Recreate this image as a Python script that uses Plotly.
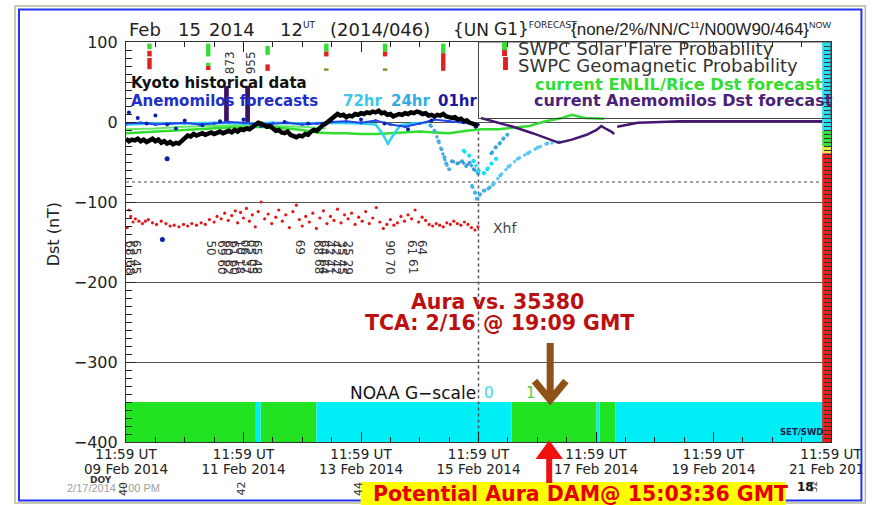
import numpy as np
import plotly.graph_objects as go

# ---------------- data (x = days since 2014-02-09 11:59 UT) ----------------
x_tick_days = [0, 2, 4, 6, 8, 10, 12]
x_tick_time = ["11:59 UT"] * 7
x_tick_date = ["09 Feb 2014", "11 Feb 2014", "13 Feb 2014", "15 Feb 2014", "17 Feb 2014", "19 Feb 2014",
               "21 Feb 2014"]
y_tick_vals = [100, 0, -100, -200, -300, -400]
y_tick_text = ["100", "0", "\u2212100", "\u2212200", "\u2212300", "\u2212400"]

kyoto_step_days = 0.05
kyoto_dst = [-21, -24, -22, -23, -21, -24, -22, -25, -23, -21, -24, -22, -26, -24, -27, -25, -28, -26, -27, -23, -20,
             -17, -18, -15, -17, -16, -14, -16, -15, -13, -15, -14, -12, -14, -13, -11, -13, -10, -12, -9, -10,
             -8, -9, -6, -3, -1, -2, -4, -6, -5, -8, -11, -10, -13, -14, -12, -16, -17, -19, -17, -18,
             -15, -16, -12, -10, -11, -7, -4, -2, 1, 3, 7, 10, 8, 9, 6, 8, 7, 10, 9, 11,
             10, 12, 11, 13, 12, 14, 11, 12, 9, 10, 7, 8, 10, 9, 11, 10, 12, 11, 13, 12,
             10, 11, 8, 9, 7, 9, 8, 10, 7, 6, 5, 6, 3, 4, 1, 2, -1, -2, -4, -5]

anem01_days = [0.05, 0.2, 0.35, 0.5, 0.7, 0.85, 1.0, 1.3, 1.6, 2.0, 2.3, 2.7, 3.1, 3.5, 4.0, 4.4, 4.8, 5.2, 5.6, 5.95]
anem01_dst = [12, 5, -2, 8, -3, -8, 2, -4, 1, 3, -5, 0, -2, 4, 3, -2, -9, 2, 4, -6]
anem01_out_days = [0.70, 0.62]
anem01_out_dst = [-46, -147]

anem24_days = [0, 0.25, 0.5, 0.75, 1.0, 1.25, 1.5, 1.75, 2.0, 2.25, 2.5, 2.75, 3.0, 3.25, 3.5, 3.75, 4.0, 4.25,
               4.5, 4.75, 5.0, 5.25, 5.5, 5.75, 6.0]
anem24_dst = [-2, -1, -3, -2, -1, -3, -2, 0, -1, -3, -2, -1, -3, -2, 0, 1, -1, 2, -3, -6, -2, 3, 1, -1, -3]

anem72_days = [0, 0.5, 1.0, 1.5, 2.0, 2.5, 3.0, 3.5, 4.0, 4.25, 4.36, 4.46, 4.56, 4.67, 4.9, 5.1]
anem72_dst = [-3, -2, -2, -1, -2, -1, -2, -1, -2, -3, -14, -27, -15, -4, -2, -1]

run_a_days = [5.18, 5.25, 5.32, 5.37, 5.42, 5.45, 5.50]
run_a_dst = [-4, -11, -24, -34, -44, -52, -59]
run_b_days = [5.55, 5.64, 5.72, 5.79, 5.85, 5.92, 5.99]
run_b_dst = [-49, -52, -49, -55, -51, -59, -64]
run_c_days = [5.75, 5.84, 5.92, 6.00, 6.09, 6.15, 6.22, 6.30]
run_c_dst = [-36, -42, -49, -61, -64, -59, -52, -46]
run_d_days = [5.89, 5.94, 5.97, 6.02, 6.09, 6.17, 6.25]
run_d_dst = [-80, -88, -96, -91, -86, -83, -78]
run_e_days = [6.25, 6.37, 6.51, 6.67, 6.84, 7.01, 7.17, 7.37]
run_e_dst = [-78, -67, -56, -46, -39, -32, -27, -25]
run_f_days = [6.22, 6.29, 6.36, 6.42, 6.49]
run_f_dst = [-39, -32, -27, -21, -16]

enlil_days = [0, 0.25, 0.5, 0.75, 1.0, 1.25, 1.5, 1.75, 2.0, 2.25, 2.5, 2.75, 3.0, 3.25, 3.5, 3.75, 4.0, 4.25,
              4.5, 4.75, 5.0, 5.25, 5.5, 5.8, 6.05, 6.35, 6.6, 6.87, 7.14, 7.42, 7.59, 7.81, 8.14]
enlil_dst = [-14, -13, -12, -11, -10, -9, -8, -7, -7, -6, -7, -8, -10, -13, -14, -14, -15, -15,
             -14, -13, -12, -13, -14, -11, -9, -9, -7, -5, 1, 5, 9, 5, 4]
enlil2_days = [0, 0.5, 1.0, 1.5, 2.0, 2.5, 3.0, 3.4]
enlil2_dst = [-9, -8, -6, -5, -4, -5, -6, -8]

anem_fc_days = [6.04, 6.25, 6.59, 6.92, 7.37, 7.59, 7.84, 8.01, 8.09, 8.18, 8.26, 8.31, None,
                8.36, 8.51, 8.71, 9.10, 9.43, 11.85]
anem_fc_dst = [5, 1, -6, -14, -26, -22, -16, -10, -5, -9, -12, -15, None, -6, -4, -1, 0, 1, 1]

xhf_days = [0.02, 0.05, 0.08, 0.12, 0.16, 0.22, 0.28, 0.33, 0.38, 0.45, 0.52, 0.60, 0.68, 0.75, 0.82, 0.90, 0.98,
            1.05, 1.12, 1.20, 1.28, 1.35, 1.42, 1.50, 1.55, 1.62, 1.68, 1.74, 1.80, 1.86, 1.90, 1.95,
            2.00, 2.05, 2.10, 2.15, 2.20, 2.25, 2.30, 2.36, 2.42, 2.48, 2.55, 2.60, 2.66, 2.72, 2.78, 2.84, 2.90, 2.95,
            3.00, 3.06, 3.12, 3.18, 3.24, 3.30, 3.36, 3.42, 3.48, 3.54, 3.60, 3.66, 3.72, 3.78, 3.84, 3.90, 3.96,
            4.02, 4.08, 4.14, 4.20, 4.26, 4.32, 4.38, 4.44, 4.50, 4.56, 4.62, 4.68, 4.74, 4.80, 4.86, 4.92, 4.98,
            5.04, 5.10, 5.16, 5.22, 5.28, 5.34, 5.40, 5.46, 5.52, 5.58, 5.64, 5.70, 5.76, 5.82, 5.88, 5.94, 5.99]
xhf_val = [-132, -110, -118, -125, -121, -124, -127, -124, -122, -126, -128, -124, -127, -130, -129, -131, -128,
           -130, -127, -129, -126, -128, -122, -125, -118, -121, -114, -123, -117, -111, -126, -113,
           -120, -108, -124, -116, -131, -112, -100, -121, -115, -127, -119, -110, -124, -116, -132, -112, -104, -122,
           -130, -118, -125, -114, -133, -120, -111, -127, -118, -123, -109, -126, -116, -121, -114, -128, -119,
           -124, -112, -127, -120, -107, -125, -133, -128, -122, -129, -126, -118, -124, -116, -121, -110, -125,
           -119, -123, -128, -130, -127, -129, -131, -126, -128, -124, -127, -129, -125, -128, -132, -135, -131]

flare_row1_days = [0.07, 0.18, 1.45, 1.64, 1.74, 1.84, 1.94, 2.04, 2.14, 2.24, 2.96, 3.28, 3.38, 3.48, 3.58,
                   3.68, 3.78, 4.50, 4.88, 5.05]
flare_row1_text = ["68", "65", "50", "69", "60", "61", "10", "06", "05", "65", "69", "68", "64", "42", "42",
                   "35", "25", "90", "61", "64"]
flare_row2_days = [0.07, 0.18, 1.64, 1.74, 1.84, 1.94, 2.04, 2.14, 2.24, 3.28, 3.38, 3.48, 3.58, 3.68, 3.78,
                   4.50, 4.88]
flare_row2_text = ["68", "45", "60", "62", "60", "18", "37", "05", "48", "68", "64", "41", "42", "45", "29",
                   "70", "61"]
flare_row_levels = [-157, -181]

cme_days = [1.71, 2.07]
cme_speed = ["873", "955"]
cme_bar_top = 45

swpc_days = [0.40, 0.40, 0.40, 1.40, 1.40, 1.40, 2.41, 2.41, 3.41, 3.41, 3.41, 4.41, 4.41, 4.41, 5.40, 5.40]
swpc_bottom = [91, 82, 66, 82, 70, 65, 84, 64, 88, 82, 64, 88, 82, 64, 86, 64]
swpc_top = [98, 89, 80, 98, 74, 70, 95, 72, 98, 88, 67, 98, 88, 67, 98, 86]
swpc_kind = ["flare", "geo", "geo", "flare", "flare", "geo", "flare", "geo", "flare", "geo", "mix",
             "flare", "geo", "mix", "flare", "geo"]

gscale_start = [0.0, 2.21, 2.29, 3.24, 6.56, 8.01, 8.06, 8.33]
gscale_end = [2.21, 2.29, 3.24, 6.56, 8.01, 8.06, 8.33, 12.0]
gscale_level = [1, 0, 1, 0, 1, 0, 1, 0]
gscale_band = [-400, -350]

dst_scale_bottom = [-11, -30, -39, -400]
dst_scale_top = [100, -11, -30, -39]
dst_scale_color = ["#2ADCF0", "#3CE03C", "#E8E840", "#E82020"]
dst_scale_day = 11.925

now_day = 6.0
storm_level = -75
doy_days = [0, 2, 4]
doy_text = ["40", "42", "44"]

# ---------------- geometry helpers (pixel -> paper) ----------------
L, R, T, B = 126, 844, 42, 442


def px(x):
    return (x - L) / (R - L)


def py(y):
    return (B - y) / (B - T)


def pann(text, x, y, size=14, color="#222", bold=False, xanchor="left", yanchor="middle", angle=0,
         family="DejaVu Sans"):
    return dict(text=text, x=px(x), y=py(y), xref="paper", yref="paper", showarrow=False,
                xanchor=xanchor, yanchor=yanchor, textangle=angle, borderpad=0,
                font=dict(size=size, color=color, family=family, weight=700 if bold else 400))


fig = go.Figure()

# NOAA G-scale band
g_colors = {0: "#00EEF6", 1: "#21E321"}
for lvl in (1, 0):
    xs = [(s + e) / 2 for s, e, g in zip(gscale_start, gscale_end, gscale_level) if g == lvl]
    ws = [e - s for s, e, g in zip(gscale_start, gscale_end, gscale_level) if g == lvl]
    fig.add_trace(go.Bar(x=xs, y=[gscale_band[1] - gscale_band[0]] * len(xs), base=gscale_band[0], width=ws,
                         marker=dict(color=g_colors[lvl], line=dict(width=0))))

# Dst colour scale on the right edge
fig.add_trace(go.Bar(x=[dst_scale_day] * 4, y=[t - b for t, b in zip(dst_scale_top, dst_scale_bottom)],
                     base=dst_scale_bottom, width=0.15,
                     marker=dict(color=dst_scale_color, line=dict(width=0))))

# SWPC probability bars
kind_color = {"flare": "#33DD33", "geo": "#E52020", "mix": "#8A8A20"}
for k in ("flare", "geo", "mix"):
    idx = [i for i, kk in enumerate(swpc_kind) if kk == k]
    fig.add_trace(go.Bar(x=[swpc_days[i] for i in idx], y=[swpc_top[i] - swpc_bottom[i] for i in idx],
                         base=[swpc_bottom[i] for i in idx], width=0.075,
                         marker=dict(color=kind_color[k], line=dict(width=0))))

# CME markers
fig.add_trace(go.Bar(x=cme_days, y=[cme_bar_top] * len(cme_days), base=0, width=0.08,
                     marker=dict(color="#3D1262", line=dict(width=0))))

# storm threshold and "now" line
fig.add_trace(go.Scatter(x=[0, 11.85], y=[storm_level, storm_level], mode="lines",
                         line=dict(color="#888", width=1.5, dash="dot")))
fig.add_trace(go.Scatter(x=[now_day, now_day], y=[-12, -400], mode="lines",
                         line=dict(color="#555", width=1.5, dash="dot")))

# Xhf red dots
fig.add_trace(go.Scatter(x=xhf_days, y=xhf_val, mode="markers",
                         marker=dict(color="#E01818", size=3.2)))

# ENLIL forecasts
fig.add_trace(go.Scatter(x=enlil2_days, y=enlil2_dst, mode="lines", line=dict(color="#66E866", width=2)))
fig.add_trace(go.Scatter(x=enlil_days, y=enlil_dst, mode="lines", line=dict(color="#30DD30", width=2.5)))

# Anemomilos forecasts
fig.add_trace(go.Scatter(x=anem72_days, y=anem72_dst, mode="lines+markers",
                         line=dict(color="#2FD2EE", width=2.5), marker=dict(size=3)))
fig.add_trace(go.Scatter(x=anem24_days, y=anem24_dst, mode="lines+markers",
                         line=dict(color="#2048E8", width=2), marker=dict(size=3)))
fig.add_trace(go.Scatter(x=anem01_days, y=anem01_dst, mode="markers",
                         marker=dict(color="#0A1EB0", size=4)))
fig.add_trace(go.Scatter(x=anem01_out_days, y=anem01_out_dst, mode="markers",
                         marker=dict(color="#0A1EB0", size=5)))
for xs, ys, c in [(run_a_days, run_a_dst, "#44AEE0"), (run_b_days, run_b_dst, "#3A9FD8"),
                  (run_c_days, run_c_dst, "#10E0F8"), (run_d_days, run_d_dst, "#3FB0E8"),
                  (run_e_days, run_e_dst, "#5CC6F0"), (run_f_days, run_f_dst, "#3AA8E0")]:
    fig.add_trace(go.Scatter(x=xs, y=ys, mode="lines+markers", line=dict(color=c, width=3, dash="dot"),
                             marker=dict(size=4)))

# Kyoto
kyoto_days = np.round(np.arange(len(kyoto_dst)) * kyoto_step_days, 2)
fig.add_trace(go.Scatter(x=kyoto_days, y=kyoto_dst, mode="lines", line=dict(color="#000", width=4.5)))

# current Anemomilos forecast
fig.add_trace(go.Scatter(x=anem_fc_days, y=anem_fc_dst, mode="lines", line=dict(color="#44166E", width=2.5),
                         connectgaps=False))

# invisible trace on the overlay axes (second tick-label row, right tick ladder)
fig.add_trace(go.Scatter(x=[0], y=[0], xaxis="x2", yaxis="y2", mode="markers", marker=dict(opacity=0),
                         hoverinfo="skip"))

# ---------------- annotations ----------------
ann = []
for days, texts, lev in [(flare_row1_days, flare_row1_text, flare_row_levels[0]),
                         (flare_row2_days, flare_row2_text, flare_row_levels[1])]:
    for d, t in zip(days, texts):
        ann.append(dict(text=t, x=d, y=lev, xref="x", yref="y", showarrow=False, textangle=90,
                        xanchor="center", yanchor="middle", font=dict(size=12, color="#333", family="DejaVu Sans")))
for d, t in zip(cme_days, cme_speed):
    ann.append(dict(text=t, x=d + 0.05, y=74, xref="x", yref="y", showarrow=False, textangle=-90,
                    xanchor="center", yanchor="middle", font=dict(size=12, color="#333", family="DejaVu Sans")))
ann.append(dict(text="Xhf", x=now_day + 0.22, y=-133, xref="x", yref="y", showarrow=False, xanchor="left",
                yanchor="middle", font=dict(size=14, color="#444", family="DejaVu Sans")))

# title pieces
small = '<span style="font-size:9px">{}</span>'
ann.append(pann("Feb", 128, 30, size=18, color="#222"))
ann.append(pann("15", 178, 30, size=18, color="#222"))
ann.append(pann("2014", 210, 30, size=18, color="#222"))
ann.append(pann("12<sup>" + small.format("UT") + "</sup>", 282, 29, size=18, color="#222"))
ann.append(pann("(2014/046)", 333, 30, size=18, color="#222"))
ann.append(pann("{UN", 458, 30, size=17, color="#222"))
ann.append(pann("G1}<sup>" + small.format("FORECAST") + "</sup>", 500, 29, size=17, color="#222"))
ann.append(pann("{none/2%/NN/C<sup>" + small.format("11") + "</sup>/N00W90/464}<sup>" + small.format("NOW") +
                "</sup>", 578, 29, size=17, color="#222", family="Liberation Sans"))

ann.append(pann("Kyoto historical data", 130, 83, size=15, color="#111", bold=True))
ann.append(pann("Anemomilos forecasts", 130, 101, size=15, color="#2030C8", bold=True))
ann.append(pann("72hr", 346, 101, size=15, color="#3BC8EC", bold=True))
ann.append(pann("24hr", 395, 101, size=15, color="#30AEE2", bold=True))
ann.append(pann("01hr", 443, 101, size=15, color="#1A1AA0", bold=True))

ann.append(pann("SWPC Solar Flare Probability", 524, 49, size=18, color="#333"))
ann.append(pann("SWPC Geomagnetic Probability", 524, 65, size=18, color="#333"))
ann.append(pann("current ENLIL/Rice Dst forecast", 542, 84, size=16.3, color="#33DD33", bold=True))
ann.append(pann("current Anemomilos Dst forecast", 540, 101, size=16, color="#4B2278", bold=True))

ann.append(pann("NOAA G\u2212scale", 353, 393, size=17, color="#111"))
ann.append(pann("0", 490, 393, size=15, color="#3CD8F0"))
ann.append(pann("1", 532, 393, size=15, color="#4CCF4C"))
ann.append(pann("SET/SWD", 791, 432, size=8.5, color="#1A1A50", bold=True))

ann.append(pann("Dst (nT)", 52, 234, size=16, color="#222", xanchor="center", angle=-90))

ann.append(pann("Aura vs. 35380", 415, 302, size=20.5, color="#BC1010", bold=True))
ann.append(pann("TCA: 2/16 @ 19:09 GMT", 368, 323, size=20.5, color="#BC1010", bold=True))

ann.append(pann("2/17/2014 3:00 PM", 65, 488, size=11, color="#A0A0A0", family="Liberation Sans"))
ann.append(pann("DOY", 88, 480, size=9, color="#333", bold=True))
for d, t in zip(doy_days, doy_text):
    ann.append(dict(text=t, x=px(L + d * (R - L) / 12.0 - 3), y=py(489), xref="paper", yref="paper",
                    showarrow=False, textangle=-90, xanchor="center", yanchor="middle",
                    font=dict(size=11, color="#333", family="DejaVu Sans")))
ann.append(pann("18", 808, 487, size=12, color="#111", bold=True))
ann.append(pann("52", 827, 487, size=9, color="#333", xanchor="center", angle=-90))
ann.append(pann("Potential Aura DAM@ 15:03:36 GMT", 377, 494, size=20.5, color="#E80000", bold=True))

# ---------------- shapes ----------------
shapes = []
# mask the overflow of the last tick label
shapes.append(dict(type="rect", xref="paper", yref="paper", x0=px(876), x1=px(900), y0=py(445), y1=py(510),
                   fillcolor="white", line=dict(width=0), layer="above"))
# frames
shapes.append(dict(type="rect", xref="paper", yref="paper", x0=px(13), x1=px(879), y0=py(6), y1=py(503),
                   line=dict(color="#B8B898", width=1.5), layer="above"))
shapes.append(dict(type="rect", xref="paper", yref="paper", x0=px(17), x1=px(875), y0=py(9.5), y1=py(500.5),
                   line=dict(color="#2233EE", width=2), layer="above"))
# legend box
shapes.append(dict(type="rect", xref="paper", yref="paper", x0=px(485), x1=px(844), y0=py(42), y1=py(118.5),
                   line=dict(color="#444", width=1), layer="above"))
# legend swatches
shapes.append(dict(type="rect", xref="paper", yref="paper", x0=px(509), x1=px(514), y0=py(42), y1=py(50),
                   fillcolor="#33DD33", line=dict(width=0), layer="above"))
shapes.append(dict(type="rect", xref="paper", yref="paper", x0=px(509), x1=px(514), y0=py(50), y1=py(56),
                   fillcolor="#E52020", line=dict(width=0), layer="above"))
shapes.append(dict(type="rect", xref="paper", yref="paper", x0=px(510), x1=px(515), y0=py(57), y1=py(70),
                   fillcolor="#E52020", line=dict(width=0), layer="above"))
# brown arrow
shapes.append(dict(type="line", xref="paper", yref="paper", x0=px(558), x1=px(558), y0=py(343), y1=py(398),
                   line=dict(color="#8E5217", width=7), layer="above"))
shapes.append(dict(type="path", xref="paper", yref="paper",
                   path="M {},{} L {},{} L {},{}".format(px(542), py(381), px(558), py(400), px(574), py(381)),
                   line=dict(color="#8E5217", width=7), layer="above"))
# yellow box
shapes.append(dict(type="rect", xref="paper", yref="paper", x0=px(365), x1=px(798), y0=py(482), y1=py(510),
                   fillcolor="#FFFF00", line=dict(width=0), layer="above"))
# red arrow
shapes.append(dict(type="line", xref="paper", yref="paper", x0=px(557), x1=px(557), y0=py(483), y1=py(452),
                   line=dict(color="#F01010", width=6), layer="above"))
shapes.append(dict(type="path", xref="paper", yref="paper",
                   path="M {},{} L {},{} L {},{} Z".format(px(545), py(458), px(557), py(442), px(569), py(458)),
                   fillcolor="#F01010", line=dict(color="#F01010", width=2), layer="above"))

tick_font = dict(family="DejaVu Sans", size=13.5, color="#222")
fig.update_layout(
    width=885, height=505, margin=dict(l=L, r=885 - R, t=T, b=505 - B),
    paper_bgcolor="white", plot_bgcolor="white", showlegend=False, barmode="overlay",
    annotations=ann, shapes=shapes,
    xaxis=dict(range=[0, 12], tickmode="array", tickvals=x_tick_days, ticktext=x_tick_time,
               ticks="inside", ticklen=10, tickcolor="#222", tickwidth=1.2, ticklabeloverflow="allow",
               minor=dict(dtick=0.5, tick0=0, ticks="inside", ticklen=5, tickcolor="#222"),
               showline=True, linecolor="#333", linewidth=1.2, mirror="allticks", showgrid=False, zeroline=False,
               tickfont=tick_font, ticklabelstandoff=0),
    xaxis2=dict(range=[0, 12], overlaying="x", side="bottom", tickmode="array", tickvals=x_tick_days,
                ticktext=x_tick_date, ticks="", showline=False, showgrid=False, zeroline=False,
                ticklabeloverflow="allow", tickfont=tick_font, ticklabelstandoff=17),
    yaxis=dict(range=[-400, 100], tickmode="array", tickvals=y_tick_vals, ticktext=y_tick_text,
               ticks="inside", ticklen=10, tickcolor="#222", tickwidth=1.2,
               minor=dict(dtick=10, ticks="inside", ticklen=6, tickcolor="#222", showgrid=False),
               showline=True, linecolor="#333", linewidth=1.2, mirror=True,
               showgrid=True, gridcolor="#555", gridwidth=1.2, zeroline=False, ticklabelstandoff=4,
               tickfont=dict(family="DejaVu Sans", size=16, color="#222")),
    yaxis2=dict(range=[-400, 100], overlaying="y", side="right", ticks="inside", dtick=5, ticklen=7,
                tickcolor="#333", tickwidth=1, showticklabels=False, showgrid=False, zeroline=False,
                showline=False),
)

fig.write_html("out.html", post_script="document.body.style.margin='0';",
               config={"displayModeBar": False})
